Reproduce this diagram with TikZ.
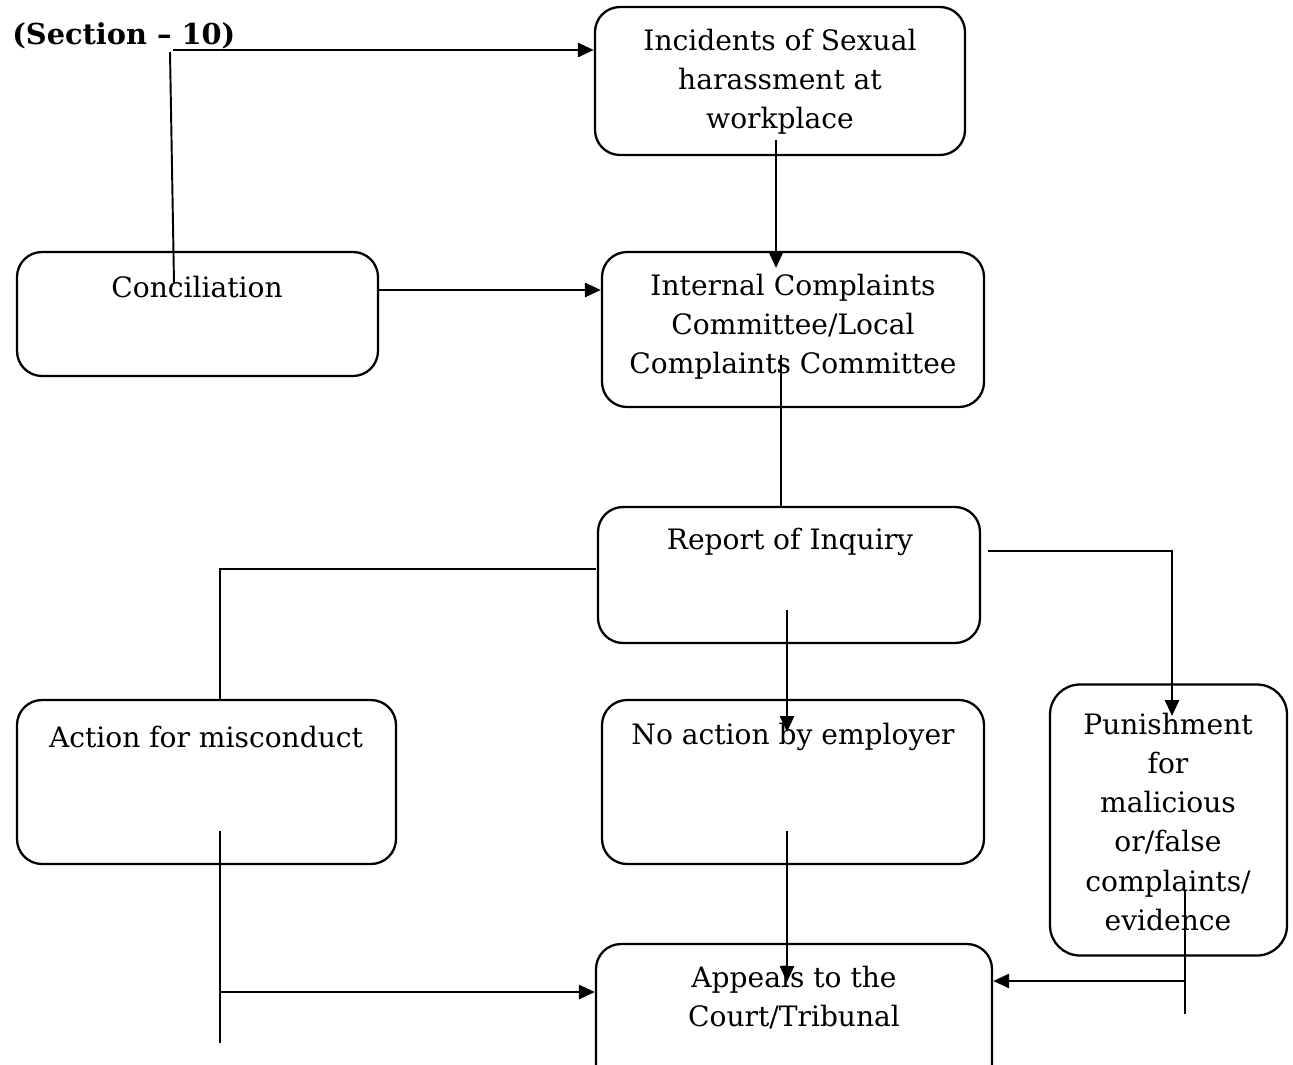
\documentclass[tikz,border=0pt]{standalone}
\usepackage{fontspec}
\setmainfont{DejaVu Serif}
\usetikzlibrary{arrows.meta}

\newcommand{\pxu}{0.02cm}

\begin{document}
\begin{tikzpicture}[x=0.02cm,y=-0.02cm,>={Triangle[length=0.32cm,width=0.28cm]},
    box/.style={draw,line width=1.3pt,rounded corners=0.5cm,inner sep=0pt},
    lbl/.style={align=center,inner sep=0pt,font=\fontsize{16}{22.2}\selectfont},
    head/.style={inner sep=0pt,font=\fontsize{16.4}{22.2}\selectfont\bfseries},
    arr/.style={->,line width=1.6pt},
    ln/.style={line width=1.1pt}]
    \useasboundingbox (0,0) rectangle (1293,1064);

    % boxes
    \node [box,minimum width=370*\pxu,minimum height=148*\pxu] (inc)   at (780,81)    {};
    \node [box,minimum width=382*\pxu,minimum height=155*\pxu] (icc)   at (793,329.5) {};
    \node [box,minimum width=361*\pxu,minimum height=124*\pxu] (conc)  at (197.5,314) {};
    \node [box,minimum width=382*\pxu,minimum height=136*\pxu] (rep)   at (789,575)   {};
    \node [box,minimum width=379*\pxu,minimum height=164*\pxu] (act)   at (206.5,782) {};
    \node [box,minimum width=382*\pxu,minimum height=164*\pxu] (noact) at (793,782)   {};
    \node [box,rounded corners=0.6cm,minimum width=237*\pxu,minimum height=271*\pxu] (pun) at (1168.5,820) {};
    \node [box,minimum width=396*\pxu,minimum height=150*\pxu] (app)   at (794,1019)  {};

    % texts
    \node [head,anchor=base west] (sec) at (12,45) {(Section – 10)};
    \node [lbl] (inc-t)   at (780,82)  {Incidents of Sexual\\harassment at\\workplace};
    \node [lbl] (icc-t)   at (793,327) {Internal Complaints\\Committee/Local\\Complaints Committee};
    \node [lbl] (conc-t)  at (197,287) {Conciliation};
    \node [lbl] (rep-t)   at (790,542) {Report of Inquiry};
    \node [lbl] (act-t)   at (206,737) {Action for misconduct};
    \node [lbl] (noact-t) at (793,737) {No action by employer};
    \node [lbl] (pun-t)   at (1168,822) {Punishment\\for\\malicious\\or/false\\complaints/\\evidence};
    \node [lbl] (app-t)   at (794,998) {Appeals to the\\Court/Tribunal};

    % free ends
    \coordinate (sec-j)  at (173,50);
    \coordinate (sec-d)  at (170,52);
    \coordinate (conc-u) at (174,283);
    \coordinate (conc-r) at (379,290);
    \coordinate (inc-d)  at (776,140);
    \coordinate (icc-u)  at (776,268);
    \coordinate (icc-d)  at (781,355);
    \coordinate (rep-l)  at (596,569);
    \coordinate (act-u)  at (220,700);
    \coordinate (rep-d)  at (787,610);
    \coordinate (noact-u) at (787,732);
    \coordinate (rep-r)  at (988,551);
    \coordinate (pun-u)  at (1172,716);
    \coordinate (act-d)  at (220,831);
    \coordinate (act-e)  at (220,1043);
    \coordinate (act-j)  at (220,992);
    \coordinate (noact-d) at (787,831);
    \coordinate (app-u)  at (787,982);
    \coordinate (pun-d)  at (1185,890);
    \coordinate (pun-e)  at (1185,1014);
    \coordinate (pun-j)  at (1185,981);

    % connectors
    \draw [arr] (sec-j) -- (sec-j -| inc.west);
    \draw [ln]  (sec-d) -- (conc-u);
    \draw [arr] (conc-r) -- (conc-r -| icc.west);
    \draw [arr] (inc-d) -- (icc-u);
    \draw [ln]  (icc-d) -- (icc-d |- rep.north);
    \draw [ln]  (rep-l) -| (act-u);
    \draw [arr] (rep-d) -- (noact-u);
    \draw [arr] (rep-r) -| (pun-u);
    \draw [ln]  (act-d) -- (act-e);
    \draw [arr] (act-j) -- (act-j -| app.west);
    \draw [arr] (noact-d) -- (app-u);
    \draw [ln]  (pun-d) -- (pun-e);
    \draw [arr] (pun-j) -- (pun-j -| app.east);
\end{tikzpicture}
\end{document}
